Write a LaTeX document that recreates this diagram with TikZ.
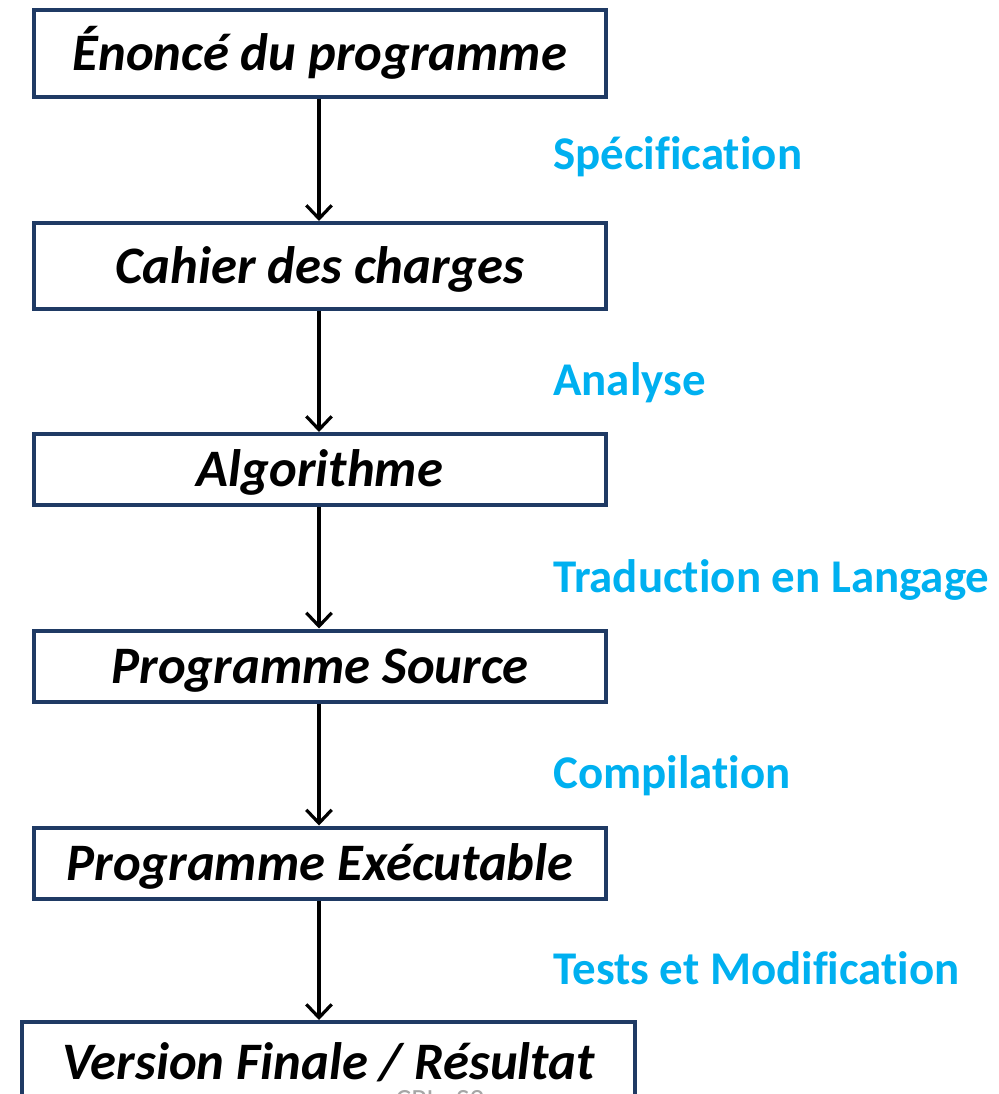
\documentclass[tikz,border=0pt]{standalone}
\usepackage{fontspec}
\setmainfont[Ligatures=NoCommon]{Carlito}
\usetikzlibrary{arrows.meta}
\definecolor{navy}{HTML}{1F3A64}
\definecolor{skyblue}{HTML}{00B0F0}
\begin{document}
\begin{tikzpicture}[x=0.75pt,y=-0.75pt,
  box/.style={draw=navy,line width=3pt,fill=white,minimum width=429pt,inner sep=0pt,
    text height=26pt,text depth=0pt,font=\fontsize{39.5}{44}\selectfont\bfseries\itshape},
  lab/.style={anchor=base west,inner sep=0pt,text=skyblue,font=\fontsize{35.2}{40}\selectfont\bfseries},
  flow/.style={line width=2.4pt,-{Straight Barb[length=10pt,width=19pt,line width=2.4pt]}}]
\useasboundingbox (0,0) rectangle (998,1094);
\node[box,minimum height=65.25pt] (b1) at (320,53.5) {Énoncé du programme};
\node[box,minimum height=64.5pt] (b2) at (320,266) {Cahier des charges};
\node[box,minimum height=53.25pt] (b3) at (320,469.5) {Algorithme};
\node[box,minimum height=53.25pt] (b4) at (320,666) {Programme Source};
\node[box,minimum height=53.25pt] (b5) at (320,863) {Programme Exécutable};
\node[box,minimum height=60pt,minimum width=459.75pt] (b6) at (328.5,1062) {Version Finale / Résultat};
\draw[flow] (b1.south -| 319,0) -- (b2.north -| 319,0);
\draw[flow] (b2.south -| 319,0) -- (b3.north -| 319,0);
\draw[flow] (b3.south -| 319,0) -- (b4.north -| 319,0);
\draw[flow] (b4.south -| 319,0) -- (b5.north -| 319,0);
\draw[flow] (b5.south -| 319,0) -- (b6.north -| 319,0);
\node[lab] (l1) at (553,170) {Spécification};
\node[lab] (l2) at (553,395) {Analyse};
\node[lab] (l3) at (553,592) {Traduction en Langage};
\node[lab] (l4) at (553,788) {Compilation};
\node[lab] (l5) at (553,984) {Tests et Modification};
\begin{scope}
\clip (0,0) rectangle (998,1094);
\node[anchor=base,inner sep=0pt,text=gray!70,font=\fontsize{22}{26}\selectfont] (foot) at (440,1109) {CPI - S2};
\end{scope}
\end{tikzpicture}
\end{document}
